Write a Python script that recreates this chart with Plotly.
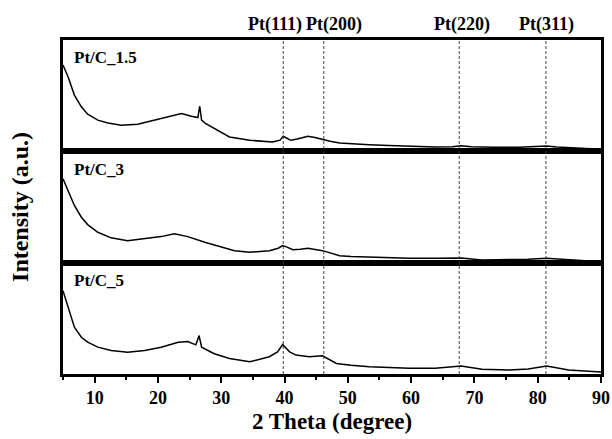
import plotly.graph_objects as go
from plotly.subplots import make_subplots

# ---- data (arbitrary intensity units, 0-100 per panel) ----
x_15 = [5, 5.8, 6.8, 7.9, 8.9, 10.5, 12.1, 14.2, 16.8, 19.4, 22.1, 23.7, 25.3, 26.3, 26.6, 26.9,
        27.5, 28.9, 30.2, 31.3, 34.5, 36.5, 38.1, 39.3, 39.8, 40.3, 41.0, 42.0, 43.0, 43.7,
        44.8, 46.0, 47.2, 48.7, 50.5, 53.4, 56.5, 59.7, 63.8, 66.5, 67.9, 69.5, 73, 77, 79.6,
        81.4, 83, 84.9, 87.5, 90]
y_15 = [77.5, 67, 50.5, 40, 33.3, 28, 25.5, 23.4, 24.3, 28, 32.4, 34, 31.5, 30.3, 40.5, 28,
        25, 20.4, 16, 12.9, 9.9, 9.0, 8.4, 10, 13.5, 12, 9.9, 11, 12.8, 13.5,
        12.5, 10.5, 9, 7.5, 6.8, 6, 5.2, 4.5, 3.9, 4.2, 5.1, 4.2, 3.6, 3.6, 4.5,
        4.8, 4, 3.3, 2.6, 1.8]

x_3 = [5, 6.0, 6.8, 7.9, 8.9, 10.5, 12.6, 15.2, 17.9, 20.5, 22.6, 24.7, 27.4, 30.5, 32.1,
       34.5, 37.6, 39.0, 39.7, 40.4, 41.3, 42.5, 43.7, 46.0, 47.2, 48.7, 50.5, 53.4, 56.5,
       59.7, 63.8, 67.9, 71.2, 75.5, 78.5, 81.4, 84.9, 87.5, 90]
y_3 = [75.4, 61.9, 51.4, 40.8, 34.2, 27.3, 22.3, 19.8, 21.3, 23.4, 25.9, 23.4, 18.3, 13.2, 10.8,
       9.3, 10.8, 13, 15.3, 14, 11.7, 12, 12.9, 10.8, 8.5, 6.3, 5.5, 4.8, 4.3,
       3.9, 4.0, 4.2, 2.4, 2.4, 3.0, 4.0, 2.4, 1.8, 0.9]

x_5 = [5, 6.0, 6.8, 7.9, 8.9, 10.5, 12.6, 15.2, 17.9, 20.5, 23.2, 24.7, 26.0, 26.5, 26.9,
       28.9, 31.3, 34.5, 37.6, 38.9, 39.7, 40.8, 41.8, 43.9, 46.0, 48.2, 50.5, 53.4, 56.5,
       59.7, 63.8, 67.9, 71.2, 75.5, 78.5, 81.4, 84.9, 87.5, 90]
y_5 = [74.7, 55.4, 42, 33, 28.6, 24.1, 21.1, 19.6, 21.1, 24.1, 28.6, 29.2, 26.2, 34.5, 24.1,
       18.2, 14, 11, 15.5, 19.9, 26.5, 19.9, 17, 15.5, 16.4, 9.5, 7.8, 6.5, 5.6,
       5.1, 5.1, 7.1, 4.2, 3.6, 4.5, 7.1, 3.6, 2.8, 1.8]

series = [("Pt/C_1.5", x_15, y_15), ("Pt/C_3", x_3, y_3), ("Pt/C_5", x_5, y_5)]

peak_pos = [39.8, 46.2, 67.6, 81.3]
peak_labels = ["Pt(111)", "Pt(200)", "Pt(220)", "Pt(311)"]
peak_label_x = [38.5, 47.8, 68.0, 81.4]

x_ticks = [10, 20, 30, 40, 50, 60, 70, 80, 90]

FONT = "Liberation Serif"

fig = make_subplots(rows=3, cols=1, shared_xaxes=True, vertical_spacing=0)

for i, (name, xs, ys) in enumerate(series, start=1):
    fig.add_trace(go.Scatter(x=xs, y=ys, mode="lines", name=name,
                             line=dict(color="black", width=1.5),
                             showlegend=False), row=i, col=1)
    fig.update_yaxes(range=[0, 100], showticklabels=False, ticks="",
                     showgrid=False, zeroline=False, showline=True, mirror=True,
                     linecolor="black", linewidth=2.5, row=i, col=1)
    fig.update_xaxes(range=[5, 90], showgrid=False, zeroline=False, showline=True,
                     mirror=True, linecolor="black", linewidth=2.5, row=i, col=1)
    fig.add_annotation(text=name, xref=f"x{'' if i == 1 else i} domain",
                       yref=f"y{'' if i == 1 else i} domain",
                       x=0.017, y=0.84, xanchor="left", yanchor="middle",
                       showarrow=False, font=dict(size=17, family=FONT, color="black", weight="bold"))

fig.update_xaxes(tickvals=x_ticks, ticks="outside", ticklen=6, tickwidth=2,
                 tickcolor="black",
                 minor=dict(dtick=5, tick0=5, ticks="outside", ticklen=3, tickwidth=2,
                            tickcolor="black"),
                 tickfont=dict(size=18, family=FONT, color="black", weight="bold"),
                 title=dict(text="2 Theta (degree)", standoff=6,
                            font=dict(size=23, family=FONT, color="black", weight="bold")),
                 row=3, col=1)

for p in peak_pos:
    fig.add_shape(type="line", xref="x", yref="paper", x0=p, x1=p, y0=0, y1=1,
                  line=dict(color="#333333", width=0.9, dash="3px,2px"), layer="above")

for lx, lt in zip(peak_label_x, peak_labels):
    fig.add_annotation(text=lt, xref="x", yref="paper", x=lx, y=1.046,
                       xanchor="center", yanchor="middle", showarrow=False,
                       font=dict(size=18, family=FONT, color="black", weight="bold"))

fig.add_annotation(text="Intensity (a.u.)", xref="paper", yref="paper",
                   x=-0.080, y=0.5, textangle=-90, xanchor="center", yanchor="middle",
                   showarrow=False,
                   font=dict(size=24, family=FONT, color="black", weight="bold"))

fig.update_layout(width=612, height=439,
                  margin=dict(l=63, r=11, t=40, b=65, autoexpand=False),
                  paper_bgcolor="white", plot_bgcolor="white",
                  font=dict(family=FONT, color="black"))

fig.write_html("out.html", config={"displayModeBar": False},
               post_script="document.body.style.margin='0';")
